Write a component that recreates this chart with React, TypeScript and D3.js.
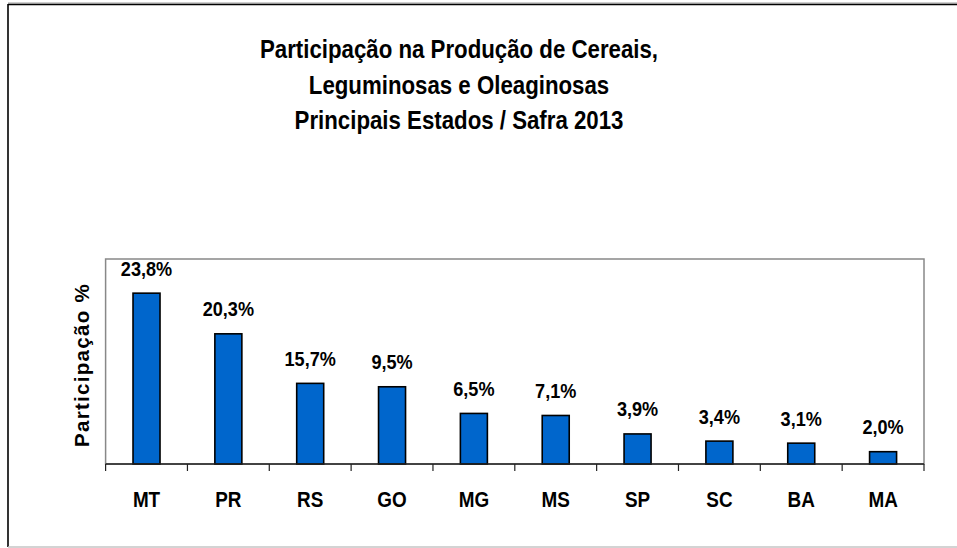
import { scaleBand, scaleLinear } from "d3";

const states = ["MT", "PR", "RS", "GO", "MG", "MS", "SP", "SC", "BA", "MA"];
// bar heights as drawn (axis 0..30)
const barValues = [25.0, 19.05, 11.8, 11.3, 7.4, 7.1, 4.4, 3.35, 3.05, 1.8];
// data labels printed above the bars
const shareLabels = ["23,8%", "20,3%", "15,7%", "9,5%", "6,5%", "7,1%", "3,9%", "3,4%", "3,1%", "2,0%"];
const titleLines = [
  "Participação na Produção de Cereais,",
  "Leguminosas e Oleaginosas",
  "Principais Estados / Safra 2013"
];

const width = 957;
const height = 548;
const plot = { left: 105.6, right: 924, top: 259, bottom: 464 };
const font = "'Liberation Sans', Arial, sans-serif";

export default function App(): React.JSX.Element {
  const x = scaleBand<string>().domain(states).range([plot.left, plot.right]).paddingInner(0).paddingOuter(0);
  const y = scaleLinear().domain([0, 30]).range([plot.bottom, plot.top]);
  const barWidth = 27;
  const ticks = [...states.map((s) => x(s) ?? 0), plot.right];

  return (
    <svg
      width={width}
      height={height}
      viewBox={`0 0 ${width} ${height}`}
      style={{ position: "absolute", left: 0, top: 0, background: "#fff" }}
    >
      {/* outer frame */}
      <line x1={8} y1={3} x2={width} y2={3} stroke="#9a9a9a" strokeWidth={1} />
      <line x1={8} y1={4.5} x2={width} y2={4.5} stroke="#000" strokeWidth={1.5} />
      <line x1={8} y1={4} x2={8} y2={547} stroke="#000" strokeWidth={1.6} />
      <line x1={8} y1={547} x2={width} y2={547} stroke="#c4c4c4" strokeWidth={1.5} />

      <g fontFamily={font} fontWeight="bold" fontSize={25} textAnchor="middle" fill="#000">
        {titleLines.map((t, i) => (
          <text key={t} transform={`translate(459,${58 + i * 35.5}) scale(0.89,1)`}>
            {t}
          </text>
        ))}
      </g>

      {/* plot area border */}
      <rect
        x={plot.left}
        y={plot.top}
        width={plot.right - plot.left}
        height={plot.bottom - plot.top}
        fill="none"
        stroke="#888"
        strokeWidth={1.5}
      />

      {states.map((s, i) => {
        const cx = (x(s) ?? 0) + x.bandwidth() / 2;
        const top = y(barValues[i]);
        return (
          <g key={s}>
            <rect
              x={cx - barWidth / 2}
              y={top}
              width={barWidth}
              height={plot.bottom - top}
              fill="#0066CC"
              stroke="#000"
              strokeWidth={1.6}
            />
            <text
              transform={`translate(${cx},${top - 17.5}) scale(0.93,1)`}
              textAnchor="middle"
              fontFamily={font}
              fontWeight="bold"
              fontSize={19.5}
            >
              {shareLabels[i]}
            </text>
            <text
              transform={`translate(${cx},${506.5}) scale(0.86,1)`}
              textAnchor="middle"
              fontFamily={font}
              fontWeight="bold"
              fontSize={22}
            >
              {s}
            </text>
          </g>
        );
      })}

      {/* category axis */}
      <line x1={plot.left} y1={plot.bottom} x2={plot.right} y2={plot.bottom} stroke="#222" strokeWidth={1.6} />
      {ticks.map((t) => (
        <line key={t} x1={t} y1={plot.bottom} x2={t} y2={plot.bottom + 7} stroke="#222" strokeWidth={1.2} />
      ))}

      <text
        transform={`translate(89,${365}) rotate(-90)`}
        textAnchor="middle"
        fontFamily={font}
        fontWeight="bold"
        fontSize={20.5}
        letterSpacing={1.3}
      >
        Participação %
      </text>
    </svg>
  );
}
